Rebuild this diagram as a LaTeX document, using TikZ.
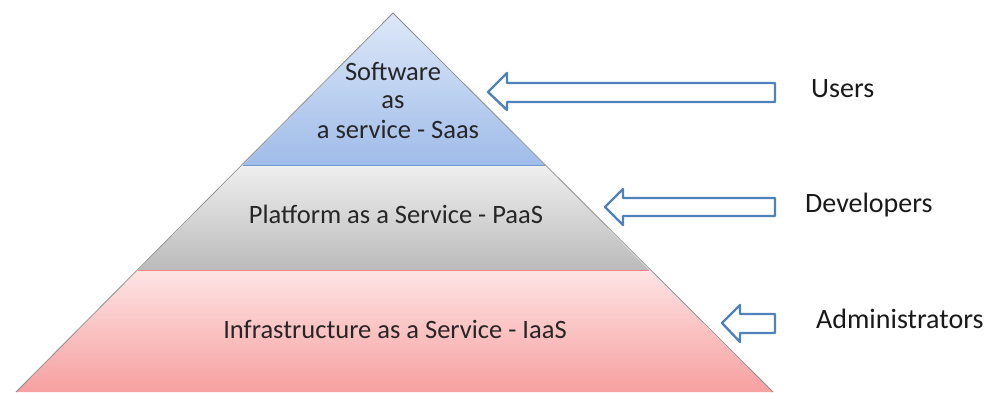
\documentclass[tikz,border=0pt]{standalone}
\usepackage{fontspec}
\setmainfont{Carlito}
\begin{document}
\begin{tikzpicture}[x=1pt,y=-1pt,
  lbl/.style={font=\fontsize{26.5}{29}\selectfont, text=black!85, anchor=base, inner sep=0pt},
  role/.style={font=\fontsize{28}{32}\selectfont, text=black!90, anchor=base west, inner sep=0pt},
  harrow/.style={draw=arrowblue, line width=2.4pt, fill=white, line join=round}]
\definecolor{arrowblue}{HTML}{4F81BD}
\definecolor{bluetop}{HTML}{DDE8F8}
\definecolor{bluebot}{HTML}{A0BCE9}
\definecolor{greytop}{HTML}{EFEFEF}
\definecolor{greybot}{HTML}{BBBBBB}
\definecolor{redtop}{HTML}{FEE4E4}
\definecolor{redbot}{HTML}{F7A0A0}
\useasboundingbox (0,0) rectangle (991,392);
% pyramid corners
\coordinate (apex) at (393,13);
\coordinate (l1) at (243,165); \coordinate (r1) at (545,165);
\coordinate (l2) at (138,270); \coordinate (r2) at (649,270);
\coordinate (l3) at (16,392);  \coordinate (r3) at (773,392);
% layers
\shade[top color=bluetop, bottom color=bluebot] (apex) -- (r1) -- (l1) -- cycle;
\shade[top color=greytop, bottom color=greybot] (l1) -- (r1) -- (r2) -- (l2) -- cycle;
\shade[top color=redtop, bottom color=redbot] (l2) -- (r2) -- (r3) -- (l3) -- cycle;
\draw[black!45, line width=0.8pt] (l3) -- (apex) -- (r3);
\draw[arrowblue!80, line width=1pt] (l1) -- (r1);
\draw[red!50, line width=1pt] (l2) -- (r2);
% texts
\node[lbl] (saas1) at (393,80) {Software};
\node[lbl] (saas2) at (393,108) {as};
\node[lbl] (saas3) at (398,138) {a service - Saas};
\node[lbl] (paas) at (396,223) {Platform as a Service - PaaS};
\node[lbl] (iaas) at (395,338) {Infrastructure as a Service - IaaS};
% arrows
\draw[harrow] (488,92) -- (507,73) -- (507,83) -- (775,83) -- (775,102) -- (507,102) -- (507,110) -- cycle;
\draw[harrow] (605,207) -- (623,189) -- (623,198) -- (775,198) -- (775,216) -- (623,216) -- (623,225) -- cycle;
\draw[harrow] (722,323) -- (740,305) -- (740,314) -- (775,314) -- (775,333) -- (740,333) -- (740,342) -- cycle;
% roles
\node[role] (users) at (811,97) {Users};
\node[role] (dev) at (805,212) {Developers};
\node[role] (admin) at (816,328) {Administrators};
\end{tikzpicture}
\end{document}
